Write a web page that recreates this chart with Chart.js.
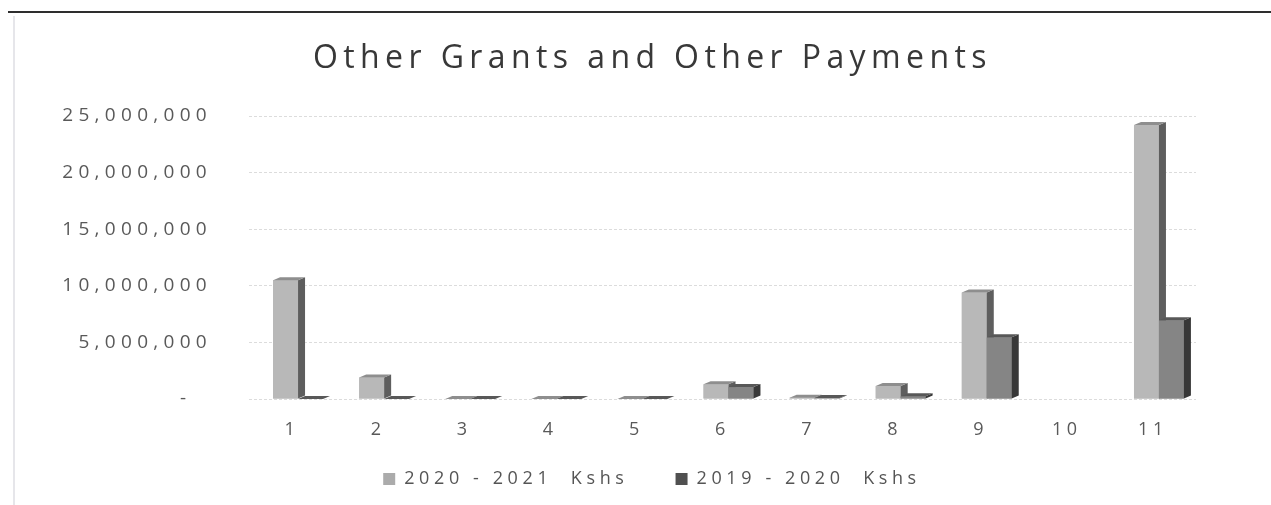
<!DOCTYPE html>
<html>
  <head>
    <script src="https://cdn.jsdelivr.net/npm/chart.js"></script>
    <style>
      body { margin: 0; background: #fff; }
      #wrap { position: relative; width: 1271px; height: 505px; overflow: hidden; }
      #topline { position: absolute; left: 8px; right: 0; top: 11px; height: 2px; background: #2e2e2e; }
      #leftline { position: absolute; left: 13px; top: 16px; bottom: 0; width: 2px; background: #e6e6ea; }
      #title { position: absolute; left: 313px; top: 41px; line-height: 30px; white-space: nowrap;
               font-family: 'Open Sans', sans-serif; font-size: 32px; letter-spacing: 5.4px; color: #383838; }
      canvas { position: absolute; left: 0; top: 0; }
    </style>
  </head>
  <body>
    <div id="wrap">
      <canvas id="grants-chart" width="1271" height="505"></canvas>
      <div id="topline"></div>
      <div id="leftline"></div>
      <div id="title">Other Grants and Other Payments</div>
    </div>
    <script>
      var categories = ['1', '2', '3', '4', '5', '6', '7', '8', '9', '10', '11'];
      var seriesNames = ['2020 - 2021  Kshs', '2019 - 2020  Kshs'];
      var values2021 = [10500000, 1900000, 0, 0, 0, 1300000, 120000, 1150000, 9400000, null, 24200000];
      var values2020 = [0, 0, 0, 0, 0, 1050000, 80000, 250000, 5450000, null, 6950000];
      var yTicks = [0, 5000000, 10000000, 15000000, 20000000, 25000000];

      // front / side / top shades for the fake 3D columns
      var faces = [
        { front: '#b8b8b8', side: '#5e5e5e', top: '#8e8e8e' },
        { front: '#858585', side: '#383838', top: '#585858' }
      ];
      var legendColors = ['#ababab', '#505050'];
      var depth = 7, rise = 3, shift = 6, legendShift = 88;

      var bar3d = {
        id: 'bar3d',
        beforeUpdate: function(chart) { chart.ctx.letterSpacing = '4.6px'; },
        afterLayout: function(chart) { chart.legend.left += legendShift; },
        beforeDraw: function(chart) { chart.ctx.letterSpacing = '4.6px'; },
        beforeDatasetsDraw: function(chart) {
          chart.ctx.save();
          chart.ctx.translate(shift, 0);
        },
        afterDatasetsDraw: function(chart) {
          var ctx = chart.ctx;
          var metas = [chart.getDatasetMeta(0), chart.getDatasetMeta(1)];
          for (var j = 0; j < categories.length; j++) {
            metas.forEach(function(meta, i) {
              var el = meta.data[j];
              if (!el || chart.data.datasets[i].data[j] === null) return;
              var x = el.x, y = el.y, base = el.base, w = el.width;
              var l = x - w / 2, r = x + w / 2;
              ctx.fillStyle = faces[i].front;
              ctx.fillRect(l, y, w, base - y);
              ctx.fillStyle = faces[i].side;
              ctx.beginPath();
              ctx.moveTo(r, y); ctx.lineTo(r + depth, y - rise);
              ctx.lineTo(r + depth, base - rise); ctx.lineTo(r, base);
              ctx.closePath(); ctx.fill();
              ctx.fillStyle = faces[i].top;
              ctx.beginPath();
              ctx.moveTo(l, y); ctx.lineTo(l + depth, y - rise);
              ctx.lineTo(r + depth, y - rise); ctx.lineTo(r, y);
              ctx.closePath(); ctx.fill();
            });
          }
          ctx.restore();
          // y labels are drawn after this point
          ctx.letterSpacing = '5.3px';
        }
      };

      var ctx = document.getElementById('grants-chart').getContext('2d');
      var grantsChart = new Chart(ctx, {
        type: 'bar',
        data: {
          labels: categories,
          datasets: [{
            label: seriesNames[0],
            data: values2021,
            backgroundColor: faces[0].front
          }, {
            label: seriesNames[1],
            data: values2020,
            backgroundColor: faces[1].front
          }]
        },
        options: {
          responsive: false,
          animation: false,
          devicePixelRatio: 1,
          categoryPercentage: 0.58,
          barPercentage: 1,
          layout: { padding: { top: 116, left: 20, right: 75, bottom: 7 } },
          scales: {
            x: {
              grid: { display: false, drawTicks: false },
              border: { display: false },
              ticks: { padding: 20, color: '#595959', font: { family: 'Open Sans', size: 18 } },
              afterFit: function(scale) { scale.height = 61; }
            },
            y: {
              min: 0,
              max: 25000000,
              afterBuildTicks: function(scale) {
                scale.ticks = yTicks.map(function(v) { return { value: v }; });
              },
              afterFit: function(scale) { scale.width = 229; },
              grid: { color: '#dcdcdc', drawTicks: false },
              border: { display: false, dash: [3, 2] },
              ticks: {
                z: 1,
                padding: 37,
                color: '#595959',
                font: { family: 'Open Sans', size: 19 },
                callback: function(v) { return v === 0 ? '-  ' : v.toLocaleString('en-US'); }
              }
            }
          },
          plugins: {
            title: { display: false },
            tooltip: { enabled: false },
            legend: {
              position: 'bottom',
              labels: {
                boxWidth: 12,
                boxHeight: 12,
                padding: 10,
                color: '#555555',
                font: { family: 'Open Sans', size: 18 },
                generateLabels: function(chart) {
                  var items = Chart.defaults.plugins.legend.labels.generateLabels(chart);
                  items.forEach(function(it, i) {
                    it.fillStyle = legendColors[i];
                    it.strokeStyle = legendColors[i];
                    it.lineWidth = 0;
                    if (i === 0) it.text += '    ';
                  });
                  return items;
                }
              }
            }
          }
        },
        plugins: [bar3d]
      });
    </script>
  </body>
</html>
